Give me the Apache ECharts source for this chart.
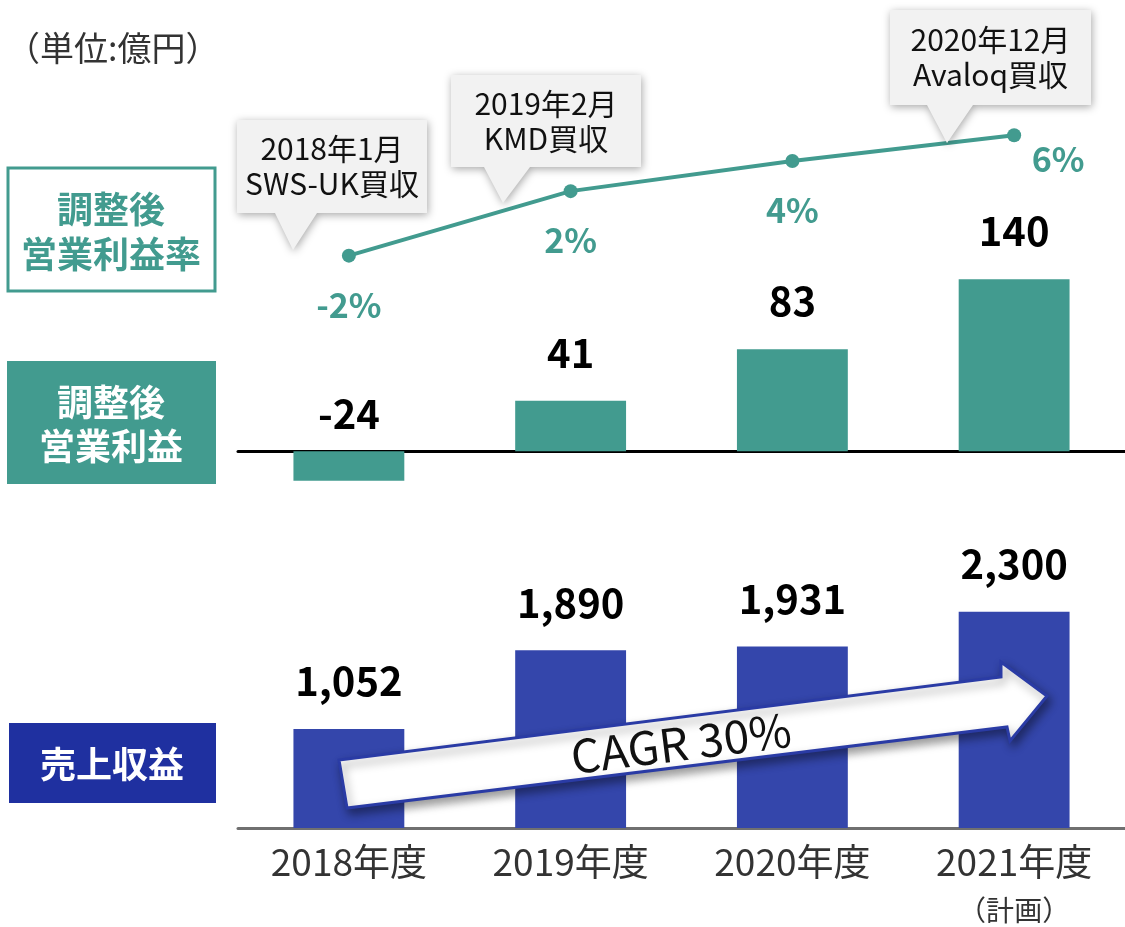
<!DOCTYPE html>
<html>
<head>
<meta charset="utf-8">
<script src="https://cdn.jsdelivr.net/npm/echarts@6/dist/echarts.min.js"></script>
<style>
html, body { margin: 0; padding: 0; background: #fff; }
#main { width: 1125px; height: 927px; }
</style>
</head>
<body>
<div id="main"></div>
<script>
var years = ['2018年度', '2019年度', '2020年度', '2021年度'];
var marginRate = [-2.3, 2.2, 4.3, 6.1];
var adjProfit = [-24, 41, 83, 140];
var revenue = [1052, 1890, 1931, 2300];

var teal = '#429B8F';
var blue = '#3446AB';
var navy = '#1F30A0';
var jp = '"Noto Sans CJK JP", "Noto Sans", sans-serif';

var chartDom = document.getElementById('main');
var myChart = echarts.init(chartDom);
var option;

function callout(box, base, tip, lines) {
    var pts = [
        [box[0], box[1]], [box[2], box[1]], [box[2], box[3]],
        [base[1], box[3]], tip, [base[0], box[3]], [box[0], box[3]]
    ];
    return [
        {
            type: 'polygon',
            shape: { points: pts },
            style: { fill: '#F2F2F2', shadowBlur: 8, shadowColor: 'rgba(0,0,0,0.35)', shadowOffsetX: 1, shadowOffsetY: 2 },
            z: 10
        },
        {
            type: 'text',
            style: {
                text: lines.join('\n'), x: (box[0] + box[2]) / 2, y: (box[1] + box[3]) / 2,
                align: 'center', verticalAlign: 'middle', lineHeight: 35,
                font: '30px ' + jp, fill: '#111'
            },
            z: 11
        }
    ];
}

var graphics = [
    { type: 'text', style: { text: '（単位:億円）', x: 6, y: 48, verticalAlign: 'middle', font: '34px ' + jp, fill: '#333' } },
    { type: 'rect', shape: { x: 8, y: 168, width: 207, height: 123 }, style: { fill: '#fff', stroke: teal, lineWidth: 3 } },
    { type: 'text', style: { text: '調整後\n営業利益率', x: 111, y: 232, align: 'center', verticalAlign: 'middle', lineHeight: 45, font: 'bold 36px ' + jp, fill: teal } },
    { type: 'rect', shape: { x: 7, y: 361, width: 209, height: 123 }, style: { fill: teal } },
    { type: 'text', style: { text: '調整後\n営業利益', x: 111, y: 424, align: 'center', verticalAlign: 'middle', lineHeight: 44, font: 'bold 36px ' + jp, fill: '#fff' } },
    { type: 'rect', shape: { x: 9, y: 723, width: 207, height: 80 }, style: { fill: navy } },
    { type: 'text', style: { text: '売上収益', x: 112, y: 764, align: 'center', verticalAlign: 'middle', font: 'bold 36px ' + jp, fill: '#fff' } },
    {
        type: 'polygon',
        shape: { points: [[347, 808], [339, 760], [1001, 677], [1001, 662], [1047, 696], [1010, 741], [1007, 727]] },
        style: { fill: '#fff', stroke: '#2A3BA5', lineWidth: 3, shadowBlur: 10, shadowColor: 'rgba(0,0,0,0.4)', shadowOffsetX: 3, shadowOffsetY: 5 },
        z: 10
    },
    {
        type: 'text', x: 681, y: 743, rotation: 0.126,
        style: { text: 'CAGR 30%', x: 0, y: 0, align: 'center', verticalAlign: 'middle', font: '46px ' + jp, fill: '#111' },
        z: 11
    }
].concat(
    callout([237, 120, 427, 213], [275, 317], [293, 250], ['2018年1月', 'SWS-UK買収']),
    callout([451, 75, 641, 167], [484, 530], [503, 203], ['2019年2月', 'KMD買収']),
    callout([890, 10, 1091, 105], [927, 973], [947, 143], ['2020年12月', 'Avaloq買収'])
);

option = {
    animation: false,
    textStyle: { fontFamily: jp },
    grid: [
        { left: 238, right: 0, top: 108, height: 172 },
        { left: 238, right: 0, top: 267, height: 221 },
        { left: 238, right: 0, top: 546, height: 282 }
    ],
    xAxis: [
        { type: 'category', gridIndex: 0, data: years, show: false },
        {
            type: 'category', gridIndex: 1, data: years,
            axisLine: { lineStyle: { color: '#000', width: 3 } },
            axisTick: { show: false }, axisLabel: { show: false }
        },
        {
            type: 'category', gridIndex: 2, data: years,
            axisLine: { lineStyle: { color: '#707070', width: 3 } },
            axisTick: { show: false },
            axisLabel: {
                margin: 13, color: '#333',
                formatter: function (v) {
                    if (v === '2021年度') return '{a|' + v + '}\n{b|（計画）}';
                    return '{a|' + v + '}';
                },
                rich: {
                    a: { fontSize: 37, lineHeight: 42, color: '#333', fontFamily: jp },
                    b: { fontSize: 28, lineHeight: 54, color: '#333', fontFamily: jp }
                }
            }
        }
    ],
    yAxis: [
        { type: 'value', gridIndex: 0, min: -4, max: 8, show: false },
        { type: 'value', gridIndex: 1, min: -30, max: 150, show: false },
        { type: 'value', gridIndex: 2, min: 0, max: 3000, show: false }
    ],
    series: [
        {
            name: '調整後営業利益率',
            type: 'line',
            xAxisIndex: 0, yAxisIndex: 0,
            data: marginRate.map(function (v, i) {
                var d = { value: v };
                if (i === 3) d.label = { offset: [44, -25] };
                return d;
            }),
            symbol: 'circle', symbolSize: 14,
            lineStyle: { color: teal, width: 4 },
            itemStyle: { color: teal },
            label: {
                show: true, position: 'bottom', distance: 25,
                color: teal, fontSize: 34, fontWeight: 'bold', fontFamily: jp,
                formatter: function (p) { return Math.round(p.value) + '%'; }
            },
            z: 5
        },
        {
            name: '調整後営業利益',
            type: 'bar',
            xAxisIndex: 1, yAxisIndex: 1,
            barWidth: '50%',
            data: adjProfit.map(function (v) {
                var d = { value: v };
                if (v < 0) d.label = { distance: 17 };
                return d;
            }),
            itemStyle: { color: teal },
            label: { show: true, position: 'top', distance: 28, color: '#000', fontSize: 40, fontWeight: 'bold', fontFamily: jp }
        },
        {
            name: '売上収益',
            type: 'bar',
            xAxisIndex: 2, yAxisIndex: 2,
            barWidth: '50%',
            data: revenue,
            itemStyle: { color: blue },
            label: {
                show: true, position: 'top', distance: 28, color: '#000', fontSize: 40, fontWeight: 'bold', fontFamily: jp,
                formatter: function (p) { return p.value.toLocaleString('en-US'); }
            }
        }
    ],
    graphic: graphics
};

option && myChart.setOption(option);
</script>
</body>
</html>
